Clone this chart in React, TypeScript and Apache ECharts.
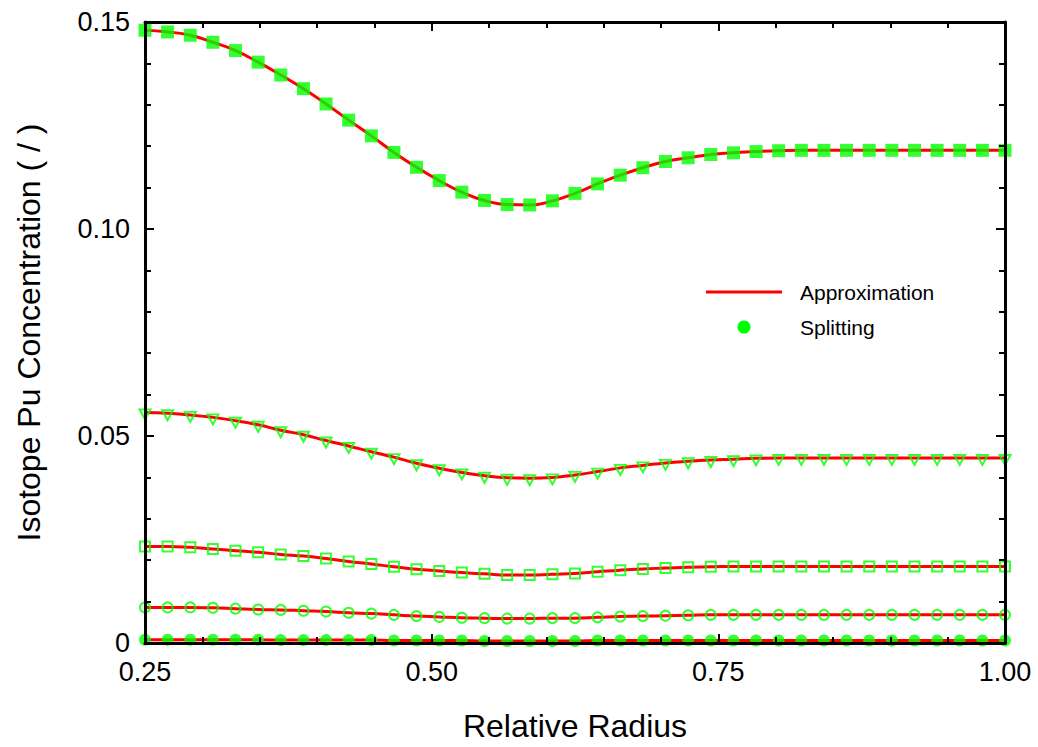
import React, { useEffect, useRef } from "react";
import * as echarts from "echarts";

const radius = [
  0.25, 0.2697, 0.2895, 0.3092, 0.3289, 0.3487, 0.3684, 0.3882, 0.4079, 0.4276,
  0.4474, 0.4671, 0.4868, 0.5066, 0.5263, 0.5461, 0.5658, 0.5855, 0.6053, 0.625,
  0.6447, 0.6645, 0.6842, 0.7039, 0.7237, 0.7434, 0.7632, 0.7829, 0.8026, 0.8224,
  0.8421, 0.8618, 0.8816, 0.9013, 0.9211, 0.9408, 0.9605, 0.9803, 1.0,
];

const isoA = [
  0.148, 0.1476, 0.1468, 0.1451, 0.1431, 0.1403, 0.1372, 0.1339, 0.1302, 0.1263,
  0.1225, 0.1185, 0.1149, 0.1117, 0.1089, 0.1069, 0.1059, 0.1058, 0.1068, 0.1086,
  0.1109, 0.113, 0.1148, 0.1163, 0.1172, 0.118, 0.1184, 0.1187, 0.1189, 0.119,
  0.119, 0.119, 0.119, 0.119, 0.119, 0.119, 0.119, 0.119, 0.119,
];

const isoB = [
  0.0557, 0.0555, 0.0551, 0.0545, 0.0537, 0.0527, 0.0514, 0.0503, 0.0489, 0.0476,
  0.0462, 0.0449, 0.0434, 0.0422, 0.0412, 0.0404, 0.0399, 0.0398, 0.04, 0.0406,
  0.0414, 0.0423, 0.0429, 0.0435, 0.0439, 0.0442, 0.0444, 0.0446, 0.0447, 0.0447,
  0.0447, 0.0447, 0.0447, 0.0447, 0.0447, 0.0447, 0.0447, 0.0447, 0.0447,
];

const isoC = [
  0.0233, 0.0233, 0.0231, 0.0227, 0.0223, 0.0219, 0.0214, 0.021, 0.0204, 0.0197,
  0.0191, 0.0184, 0.0178, 0.0174, 0.017, 0.0167, 0.0164, 0.0164, 0.0166, 0.0168,
  0.0172, 0.0176, 0.0179, 0.0181, 0.0183, 0.0184, 0.0185, 0.0185, 0.0185, 0.0185,
  0.0185, 0.0185, 0.0185, 0.0185, 0.0185, 0.0185, 0.0185, 0.0185, 0.0185,
];

const isoD = [
  0.0086, 0.0086, 0.0086, 0.0085, 0.0083, 0.0081, 0.008, 0.0078, 0.0076, 0.0073,
  0.0071, 0.0068, 0.0065, 0.0063, 0.0061, 0.006, 0.0059, 0.0059, 0.006, 0.006,
  0.0062, 0.0064, 0.0065, 0.0066, 0.0067, 0.0068, 0.0068, 0.0068, 0.0068, 0.0068,
  0.0068, 0.0068, 0.0068, 0.0068, 0.0068, 0.0068, 0.0068, 0.0068, 0.0068,
];

const isoE = [
  0.0008, 0.0008, 0.0008, 0.0008, 0.0008, 0.0008, 0.0007, 0.0007, 0.0007, 0.0007,
  0.0007, 0.0006, 0.0006, 0.0006, 0.0006, 0.0005, 0.0005, 0.0005, 0.0005, 0.0005,
  0.0006, 0.0006, 0.0006, 0.0006, 0.0006, 0.0006, 0.0006, 0.0006, 0.0006, 0.0006,
  0.0006, 0.0006, 0.0006, 0.0006, 0.0006, 0.0006, 0.0006, 0.0006, 0.0006,
];

const xTicks = [0.25, 0.5, 0.75, 1.0];
const yTicks = [0, 0.05, 0.1, 0.15];

const RED = "#ff0000";
const GREEN = "#00ff00";
const FONT = "'Liberation Sans', Arial, sans-serif";

const pairs = (ys: number[]) => radius.map((x, i) => [x, ys[i]]);

export default function App() {
  const ref = useRef<HTMLDivElement>(null);

  useEffect(() => {
    if (!ref.current) return;
    const chart = echarts.init(ref.current, null, { renderer: "svg" });

    const axisCommon = {
      axisLine: { show: true, onZero: false, lineStyle: { color: "#000", width: 3 } },
      axisTick: { show: true, inside: true, length: 9, lineStyle: { color: "#000", width: 2 } },
      minorTick: { show: true, splitNumber: 5, length: 6, lineStyle: { color: "#000", width: 2 } },
      splitLine: { show: false },
      z: 10,
    };

    const lineSeries = [isoA, isoB, isoC, isoD, isoE].map((ys) => ({
      name: "Approximation",
      type: "line",
      data: pairs(ys),
      smooth: true,
      showSymbol: false,
      symbol: "none",
      lineStyle: { color: RED, width: 3 },
      z: 2,
    }));

    const markers = [
      { ys: isoA, symbol: "rect", size: 13, filled: true, rotate: 0, offset: [0, 0] },
      { ys: isoB, symbol: "triangle", size: [11, 10], filled: false, rotate: 180, offset: [0, 2] },
      { ys: isoC, symbol: "rect", size: 10, filled: false, rotate: 0, offset: [0, 0] },
      { ys: isoD, symbol: "circle", size: 10, filled: false, rotate: 0, offset: [0, 0] },
      { ys: isoE, symbol: "circle", size: 12, filled: true, rotate: 0, offset: [0, 0] },
    ];

    const scatterSeries = markers.map((m) => ({
      name: "Splitting",
      type: "scatter",
      data: pairs(m.ys),
      symbol: m.symbol,
      symbolSize: m.size,
      symbolRotate: m.rotate,
      symbolOffset: m.offset,
      clip: true,
      itemStyle: m.filled
        ? { color: GREEN, borderWidth: 0 }
        : { color: "rgba(0,0,0,0)", borderColor: GREEN, borderWidth: 2 },
      z: 3,
    }));

    chart.setOption({
      animation: false,
      backgroundColor: "#fff",
      grid: { left: 145, right: 33, top: 22, bottom: 104, containLabel: false },
      xAxis: [
        {
          ...axisCommon,
          type: "value",
          position: "bottom",
          min: xTicks[0],
          max: xTicks[xTicks.length - 1],
          interval: 0.25,
          axisLabel: {
            color: "#000",
            fontSize: 27,
            fontFamily: FONT,
            margin: 15,
            formatter: (v: number) => v.toFixed(2),
          },
          name: "Relative Radius",
          nameLocation: "middle",
          nameGap: 67,
          nameTextStyle: { color: "#000", fontSize: 32, fontFamily: FONT },
        },
        {
          ...axisCommon,
          type: "value",
          position: "top",
          min: xTicks[0],
          max: xTicks[xTicks.length - 1],
          interval: 0.25,
          axisLabel: { show: false },
        },
      ],
      yAxis: [
        {
          ...axisCommon,
          type: "value",
          position: "left",
          min: yTicks[0],
          max: yTicks[yTicks.length - 1],
          interval: 0.05,
          axisLabel: {
            color: "#000",
            fontSize: 27,
            fontFamily: FONT,
            margin: 15,
            formatter: (v: number) => (v === 0 ? "0" : v.toFixed(2)),
          },
          name: "Isotope Pu Concentration ( / )",
          nameLocation: "middle",
          nameGap: 100,
          nameTextStyle: { color: "#000", fontSize: 32, fontFamily: FONT },
        },
        {
          ...axisCommon,
          type: "value",
          position: "right",
          min: yTicks[0],
          max: yTicks[yTicks.length - 1],
          interval: 0.05,
          axisLabel: { show: false },
        },
      ],
      series: [...lineSeries, ...scatterSeries],
      graphic: [
        {
          type: "line",
          shape: { x1: 706, y1: 292, x2: 782, y2: 292 },
          style: { stroke: RED, lineWidth: 3 },
          z: 20,
        },
        {
          type: "circle",
          shape: { cx: 744, cy: 327, r: 6.5 },
          style: { fill: GREEN },
          z: 20,
        },
        {
          type: "text",
          x: 800,
          y: 292,
          style: {
            text: "Approximation",
            fill: "#000",
            font: `21px ${FONT}`,
            verticalAlign: "middle",
            align: "left",
          },
          z: 20,
        },
        {
          type: "text",
          x: 800,
          y: 327,
          style: {
            text: "Splitting",
            fill: "#000",
            font: `21px ${FONT}`,
            verticalAlign: "middle",
            align: "left",
          },
          z: 20,
        },
      ],
    });

    return () => chart.dispose();
  }, []);

  return (
    <div
      ref={ref}
      style={{ position: "fixed", left: 0, top: 0, width: 1038, height: 747, background: "#fff" }}
    />
  );
}
